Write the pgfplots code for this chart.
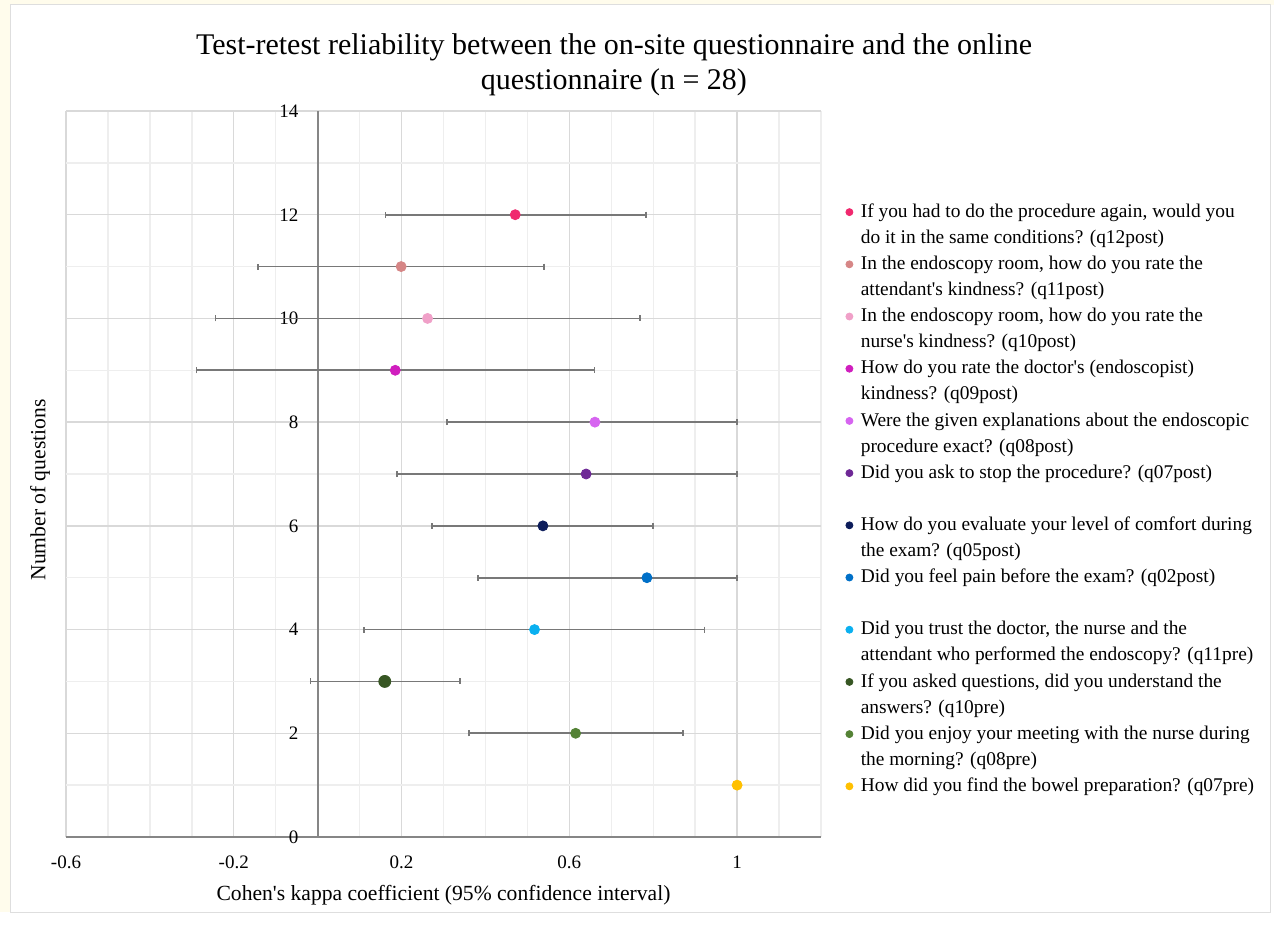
\documentclass[border=0pt]{standalone}
\usepackage{fontspec}
\setmainfont{Liberation Serif}
\usepackage{pgfplots}
\pgfplotsset{compat=1.18}
\definecolor{cA}{RGB}{240,40,110}
\definecolor{cB}{RGB}{214,134,134}
\definecolor{cC}{RGB}{240,160,200}
\definecolor{cD}{RGB}{208,30,190}
\definecolor{cE}{RGB}{214,100,240}
\definecolor{cF}{RGB}{110,40,150}
\definecolor{cG}{RGB}{12,28,90}
\definecolor{cH}{RGB}{0,112,200}
\definecolor{cI}{RGB}{10,176,240}
\definecolor{cJ}{RGB}{55,86,35}
\definecolor{cK}{RGB}{84,130,53}
\definecolor{cL}{RGB}{255,192,0}
\definecolor{ebar}{RGB}{120,120,120}
\definecolor{axgray}{RGB}{134,134,134}
\definecolor{gmaj}{RGB}{217,217,217}
\definecolor{gmin}{RGB}{238,238,238}
\definecolor{cream}{RGB}{255,252,236}
\definecolor{framegray}{RGB}{222,222,222}
\begin{document}
\begin{tikzpicture}
\fill[white] (0,0) rectangle (637pt,464pt);
\fill[cream] (0,8pt) rectangle (5pt,464pt);
\fill[cream] (0,461.5pt) rectangle (637pt,464pt);
\draw[framegray, line width=0.5pt] (5pt,8pt) rectangle (635pt,461.5pt);
\begin{axis}[
  scale only axis, width=377.5pt, height=363pt,
  at={(33pt,45.5pt)}, anchor=south west,
  xmin=-0.6, xmax=1.2, ymin=0, ymax=14,
  enlargelimits=false,
  axis lines=middle,
  axis line style={-, draw=axgray},
  x axis line style={line width=1.2pt},
  y axis line style={line width=0.9pt},
  hide obscured y ticks=false, hide obscured x ticks=false,
  xtick={-0.6,-0.2,0.2,0.6,1}, xticklabels={-0.6,-0.2,0.2,0.6,1},
  minor xtick={-0.5,-0.4,-0.3,-0.1,0,0.1,0.3,0.4,0.5,0.7,0.8,0.9,1.1,1.2},
  ytick={0,2,4,6,8,10,12,14}, yticklabels={0,2,4,6,8,10,12,14},
  minor ytick={1,3,5,7,9,11,13},
  grid=both,
  major grid style={draw=gmaj, line width=0.7pt},
  minor grid style={draw=gmin, line width=0.7pt},
  major tick length=0pt, minor tick length=0pt,
  tick label style={font=\fontsize{9.5}{11}\selectfont, inner sep=0pt},
  xticklabel style={anchor=center, yshift=-12.5pt},
  yticklabel style={anchor=east, xshift=-9.5pt},
  xlabel={Cohen\textquotesingle s kappa coefficient (95\% confidence interval)},
  xlabel style={at={(axis description cs:0.5,-0.080)}, anchor=center, font=\fontsize{10.8}{12}\selectfont},
  ylabel={Number of questions},
  ylabel style={at={(axis description cs:-0.0344,0.478)}, anchor=center, rotate=90, font=\fontsize{10.8}{12}\selectfont},
  title={Test-retest reliability between the on-site questionnaire and the online\\questionnaire (n = 28)},
  title style={at={(axis description cs:0.7258,1.0468)}, anchor=center, align=center, font=\fontsize{15}{17.5}\selectfont},
  error bars/error bar style={draw=ebar, line width=0.9pt},
  error bars/error mark options={draw=ebar, line width=0.8pt, mark size=1.5pt, rotate=90},
  legend style={at={(1.0318,0.8787)}, anchor=north west, draw=none, fill=none,
    inner sep=0pt, outer sep=0pt, row sep=0pt, column sep=0pt,
    font=\fontsize{9.7}{13}\selectfont,
    nodes={inner sep=0pt, text height=9.1pt, text depth=3.95pt}},
  legend cell align=left,
  legend image code/.code={\fill[#1] (0pt,0pt) circle (1.75pt); \path (-2pt,0pt) (5.5pt,0pt);},
]
\addplot[cA, only marks, mark=*, mark size=2.5pt, error bars/.cd, x dir=both, x explicit]
  coordinates {(0.471,12) += (0.312,0) -= (0.309,0)};
\addlegendentry{If you had to do the procedure again, would you}
\addlegendimage{empty legend}\addlegendentry{do it in the same conditions? (q12post)}
\addplot[cB, only marks, mark=*, mark size=2.5pt, error bars/.cd, x dir=both, x explicit]
  coordinates {(0.199,11) += (0.341,0) -= (0.341,0)};
\addlegendentry{In the endoscopy room, how do you rate the}
\addlegendimage{empty legend}\addlegendentry{attendant\textquotesingle s kindness? (q11post)}
\addplot[cC, only marks, mark=*, mark size=2.5pt, error bars/.cd, x dir=both, x explicit]
  coordinates {(0.262,10) += (0.507,0) -= (0.506,0)};
\addlegendentry{In the endoscopy room, how do you rate the}
\addlegendimage{empty legend}\addlegendentry{nurse\textquotesingle s kindness? (q10post)}
\addplot[cD, only marks, mark=*, mark size=2.5pt, error bars/.cd, x dir=both, x explicit]
  coordinates {(0.185,9) += (0.475,0) -= (0.474,0)};
\addlegendentry{How do you rate the doctor\textquotesingle s (endoscopist)}
\addlegendimage{empty legend}\addlegendentry{kindness? (q09post)}
\addplot[cE, only marks, mark=*, mark size=2.5pt, error bars/.cd, x dir=both, x explicit]
  coordinates {(0.661,8) += (0.339,0) -= (0.352,0)};
\addlegendentry{Were the given explanations about the endoscopic}
\addlegendimage{empty legend}\addlegendentry{procedure exact? (q08post)}
\addplot[cF, only marks, mark=*, mark size=2.5pt, error bars/.cd, x dir=both, x explicit]
  coordinates {(0.640,7) += (0.360,0) -= (0.451,0)};
\addlegendentry{Did you ask to stop the procedure? (q07post)}
\addlegendimage{empty legend}\addlegendentry{\strut}
\addplot[cG, only marks, mark=*, mark size=2.5pt, error bars/.cd, x dir=both, x explicit]
  coordinates {(0.537,6) += (0.263,0) -= (0.264,0)};
\addlegendentry{How do you evaluate your level of comfort during}
\addlegendimage{empty legend}\addlegendentry{the exam? (q05post)}
\addplot[cH, only marks, mark=*, mark size=2.5pt, error bars/.cd, x dir=both, x explicit]
  coordinates {(0.785,5) += (0.215,0) -= (0.403,0)};
\addlegendentry{Did you feel pain before the exam? (q02post)}
\addlegendimage{empty legend}\addlegendentry{\strut}
\addplot[cI, only marks, mark=*, mark size=2.5pt, error bars/.cd, x dir=both, x explicit]
  coordinates {(0.517,4) += (0.405,0) -= (0.407,0)};
\addlegendentry{Did you trust the doctor, the nurse and the}
\addlegendimage{empty legend}\addlegendentry{attendant who performed the endoscopy? (q11pre)}
\addplot[cJ, only marks, mark=*, mark size=3pt, error bars/.cd, x dir=both, x explicit]
  coordinates {(0.160,3) += (0.179,0) -= (0.177,0)};
\addlegendentry{If you asked questions, did you understand the}
\addlegendimage{empty legend}\addlegendentry{answers? (q10pre)}
\addplot[cK, only marks, mark=*, mark size=2.5pt, error bars/.cd, x dir=both, x explicit]
  coordinates {(0.615,2) += (0.256,0) -= (0.254,0)};
\addlegendentry{Did you enjoy your meeting with the nurse during}
\addlegendimage{empty legend}\addlegendentry{the morning? (q08pre)}
\addplot[cL, only marks, mark=*, mark size=2.5pt]
  coordinates {(1.0,1)};
\addlegendentry{How did you find the bowel preparation? (q07pre)}
\end{axis}
\end{tikzpicture}
\end{document}
